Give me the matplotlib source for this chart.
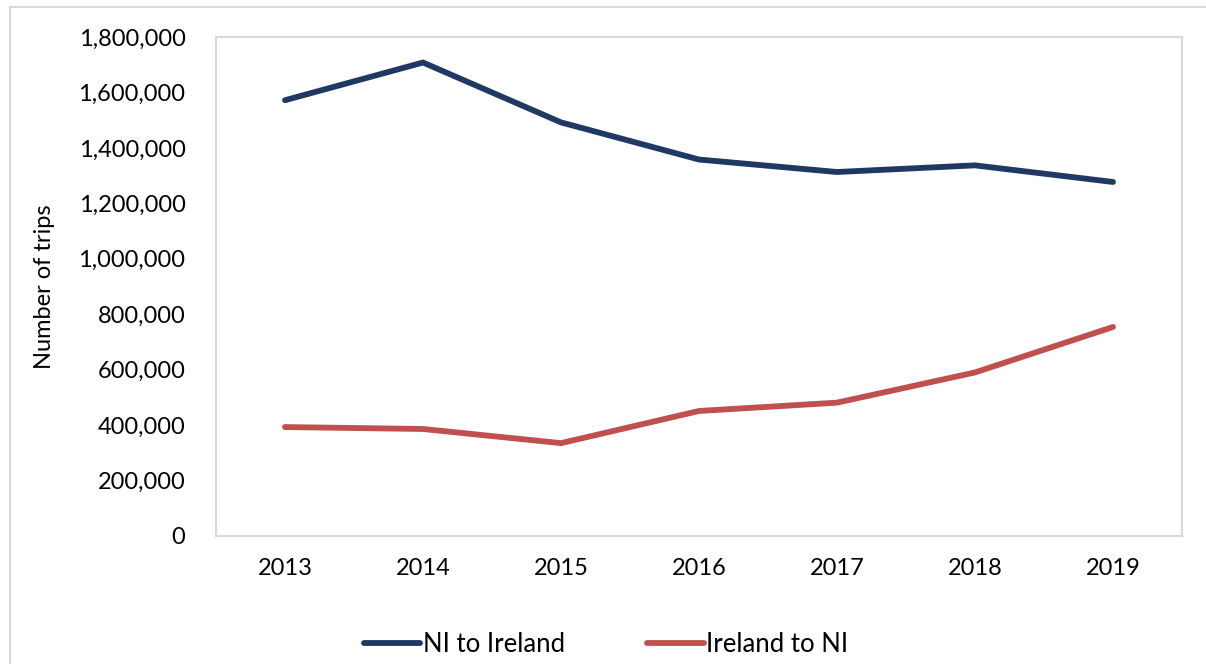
import matplotlib.pyplot as plt
from matplotlib.lines import Line2D
from matplotlib.ticker import FuncFormatter

years = ['2013', '2014', '2015', '2016', '2017', '2018', '2019']
ni_to_ireland = [1572000, 1708000, 1492000, 1358000, 1313000, 1337000, 1277000]
ireland_to_ni = [393000, 386000, 335000, 451000, 481000, 590000, 754000]

navy = '#203864'
red = '#C0504D'
grey = '#D9D9D9'

plt.rcParams['font.family'] = ['Lato', 'DejaVu Sans']

fig = plt.figure(figsize=(12.06, 6.64), dpi=100)
W, H = 1206, 664
ax = fig.add_axes([216 / W, 1 - 536 / H, (1182 - 216) / W, (536 - 37) / H])

x = list(range(len(years)))
ax.plot(x, ni_to_ireland, color=navy, lw=4.2, solid_capstyle='round')
ax.plot(x, ireland_to_ni, color=red, lw=4.2, solid_capstyle='round')

ax.set_xlim(-0.5, 6.5)
ax.set_ylim(0, 1800000)
ax.set_xticks(x)
ax.set_xticklabels(years)
ax.set_yticks(range(0, 1800001, 200000))
ax.yaxis.set_major_formatter(FuncFormatter(lambda v, p: f'{int(v):,}'))
ax.tick_params(axis='both', length=0, labelsize=17, colors='black')
ax.tick_params(axis='y', pad=22)
ax.tick_params(axis='x', pad=16)
for s in ax.spines.values():
    s.set_color(grey)
    s.set_linewidth(1.5)

fig.text(45 / W, 1 - 287 / H, 'Number of trips', rotation=90, fontsize=17,
         ha='center', va='center')

handles = [Line2D([], [], color=navy, lw=4.2, solid_capstyle='round'),
           Line2D([], [], color=red, lw=4.2, solid_capstyle='round')]
fig.legend(handles, ['NI to Ireland', 'Ireland to NI'], loc='center',
           bbox_to_anchor=(606 / W, 1 - 644 / H), ncol=2, frameon=False,
           fontsize=18.5, handlelength=2.2, handletextpad=0.1, columnspacing=3.2)

# outer chart frame (left and top edges visible)
fig.add_artist(Line2D([10 / W, 10 / W], [0, 1 - 7 / H], color=grey, lw=1.5,
                      transform=fig.transFigure))
fig.add_artist(Line2D([10 / W, 1], [1 - 7 / H, 1 - 7 / H], color=grey, lw=1.5,
                      transform=fig.transFigure))

plt.savefig('out.png', dpi=100)
